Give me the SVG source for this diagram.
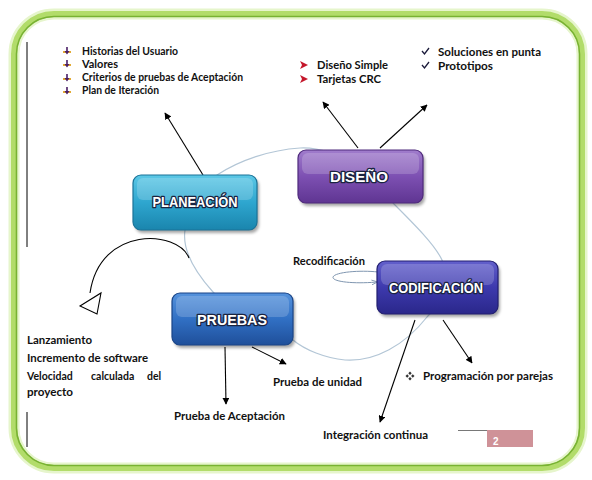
<svg xmlns="http://www.w3.org/2000/svg" width="592" height="480" viewBox="0 0 592 480">
<defs>
  <linearGradient id="gPlan" x1="0" y1="0" x2="0" y2="1">
    <stop offset="0" stop-color="#5cc8e6"/><stop offset="0.5" stop-color="#2ea6cf"/><stop offset="1" stop-color="#1a85ad"/>
  </linearGradient>
  <linearGradient id="gDis" x1="0" y1="0" x2="0" y2="1">
    <stop offset="0" stop-color="#a07ccc"/><stop offset="0.5" stop-color="#7d50b2"/><stop offset="1" stop-color="#5f3592"/>
  </linearGradient>
  <linearGradient id="gCod" x1="0" y1="0" x2="0" y2="1">
    <stop offset="0" stop-color="#6360cc"/><stop offset="0.5" stop-color="#3d39ad"/><stop offset="1" stop-color="#2a278a"/>
  </linearGradient>
  <linearGradient id="gPru" x1="0" y1="0" x2="0" y2="1">
    <stop offset="0" stop-color="#5592dc"/><stop offset="0.5" stop-color="#3170c4"/><stop offset="1" stop-color="#1f4f9a"/>
  </linearGradient>
  <filter id="sh" x="-10%" y="-10%" width="130%" height="140%">
    <feGaussianBlur stdDeviation="1.6"/>
  </filter>
  <marker id="ah" viewBox="0 0 10 10" refX="9" refY="5" markerWidth="7" markerHeight="7" markerUnits="userSpaceOnUse" orient="auto">
    <path d="M0,0 L10,5 L0,10 z" fill="#000"/>
  </marker>
  <marker id="ahLoop" viewBox="0 0 10 10" refX="9" refY="5" markerWidth="6" markerHeight="6" markerUnits="userSpaceOnUse" orient="auto">
    <path d="M0,1 L10,5 L0,9" fill="none" stroke="#7f96b0" stroke-width="1.5"/>
  </marker>
</defs>
<style>
  .lbl { font-family: Lato, "Open Sans", "Liberation Sans", sans-serif; font-weight: bold; font-size: 10.5px; fill: #111; }
  .node { font-family: "Liberation Sans", Arial, sans-serif; font-weight: bold; font-size: 14px; fill: #fff; stroke: #1a2340; stroke-width: 2.6px; paint-order: stroke; stroke-linejoin: round; text-anchor: middle; }
  .box { stroke-width: 1.2; }
  .gloss { fill: #fff; opacity: 0.18; }
  .shadow { fill: #000; opacity: 0.35; filter: url(#sh); }
  .conn { stroke: #000; stroke-width: 1.1; fill: none; }
</style>
<rect width="592" height="480" fill="#fff"/>
<g id="frame">
  <rect x="14" y="14" width="568" height="454" rx="40" fill="#fff" stroke="#e6f5cc" stroke-width="11"/>
  <rect x="14" y="14" width="568" height="454" rx="40" fill="none" stroke="#b2dc6a" stroke-width="6"/>
  <rect x="16.5" y="16.5" width="563" height="449" rx="37.5" fill="none" stroke="#78b232" stroke-width="1.6"/>
  <line x1="27" y1="42" x2="27" y2="247" stroke="#000" stroke-width="1"/>
  <line x1="27" y1="412" x2="27" y2="447" stroke="#000" stroke-width="1"/>
</g>
<g id="connectors">
  <path d="M217,175 C240,160 270,150 300,148 C340,146 375,180 393,203 C415,225 435,245 442,260 C450,280 440,305 427,317 C405,345 375,362 345,360 C325,358 305,350 293,340 C260,325 228,310 213,292 C195,272 182,250 185,230 C188,205 200,188 217,175 Z" fill="none" stroke="#b3c6d6" stroke-width="1.2"/>
  <path class="conn" d="M189,258 C178,230 100,225 90,293" stroke-width="1.3"/>
  <polygon points="80,306 101,293 97,314" fill="#fff" stroke="#000" stroke-width="1.1"/>
  <line class="conn" x1="203" y1="175" x2="165" y2="113" marker-end="url(#ah)"/>
  <line class="conn" x1="358" y1="148" x2="323" y2="102" marker-end="url(#ah)"/>
  <line class="conn" x1="380" y1="148" x2="427" y2="105" marker-end="url(#ah)"/>
  <line class="conn" x1="443" y1="320" x2="472" y2="363" marker-end="url(#ah)"/>
  <line class="conn" x1="415" y1="320" x2="380" y2="422" marker-end="url(#ah)"/>
  <line class="conn" x1="225" y1="347" x2="226" y2="404" marker-end="url(#ah)"/>
  <line class="conn" x1="252" y1="347" x2="286" y2="364" marker-end="url(#ah)"/>
  <path d="M378,272 C360,270 335,272 333,277 C332,282 355,284 377,282" fill="none" stroke="#7f96b0" stroke-width="1" marker-end="url(#ahLoop)"/>
</g>
<g id="planeacion">
  <rect class="shadow" x="135" y="178" width="124" height="55" rx="8"/>
  <rect class="box" x="133" y="175" width="124" height="55" rx="8" fill="url(#gPlan)" stroke="#1b7398"/>
  <rect class="gloss" x="137" y="178" width="116" height="22" rx="6"/>
  <text class="node" x="195" y="207" textLength="85" lengthAdjust="spacingAndGlyphs">PLANEACIÓN</text>
</g>
<g id="diseno">
  <rect class="shadow" x="300" y="153" width="125" height="53" rx="8"/>
  <rect class="box" x="298" y="150" width="125" height="53" rx="8" fill="url(#gDis)" stroke="#4f2a7c"/>
  <rect class="gloss" x="302" y="153" width="117" height="21" rx="6"/>
  <text class="node" x="359" y="182" textLength="58" lengthAdjust="spacingAndGlyphs">DISEÑO</text>
</g>
<g id="codificacion">
  <rect class="shadow" x="379" y="264" width="121" height="53" rx="8"/>
  <rect class="box" x="377" y="261" width="121" height="53" rx="8" fill="url(#gCod)" stroke="#221f70"/>
  <rect class="gloss" x="381" y="264" width="113" height="21" rx="6"/>
  <text class="node" x="436" y="293" textLength="94" lengthAdjust="spacingAndGlyphs">CODIFICACIÓN</text>
</g>
<g id="pruebas">
  <rect class="shadow" x="174" y="296" width="121" height="52" rx="8"/>
  <rect class="box" x="172" y="293" width="121" height="52" rx="8" fill="url(#gPru)" stroke="#1a4588"/>
  <rect class="gloss" x="176" y="296" width="113" height="21" rx="6"/>
  <text class="node" x="232" y="325" textLength="70" lengthAdjust="spacingAndGlyphs">PRUEBAS</text>
</g>
<g id="planeacion-list">
  <g id="b1" transform="translate(67,51)">
    <line x1="-4" y1="1" x2="4" y2="1" stroke="#e0a21e" stroke-width="1.8"/>
    <polygon points="-0.8,-4 0.8,-4 0.8,0 2.5,0 0,3.5 -2.5,0 -0.8,0" fill="#4a1f66"/>
  </g>
  <use href="#b1" x="0" y="13"/>
  <use href="#b1" x="0" y="27"/>
  <use href="#b1" x="0" y="40"/>
  <text class="lbl" x="82" y="55" textLength="96" lengthAdjust="spacingAndGlyphs">Historias del Usuario</text>
  <text class="lbl" x="82" y="68" textLength="36" lengthAdjust="spacingAndGlyphs">Valores</text>
  <text class="lbl" x="82" y="81" textLength="161" lengthAdjust="spacingAndGlyphs">Criterios de pruebas de Aceptación</text>
  <text class="lbl" x="82" y="94" textLength="77" lengthAdjust="spacingAndGlyphs">Plan de Iteración</text>
</g>
<g id="diseno-list">
  <polygon id="r1" points="300,61 308,65 300,69 302,65" fill="#c4162a"/>
  <use href="#r1" x="0" y="14"/>
  <text class="lbl" x="317" y="69" textLength="71" lengthAdjust="spacingAndGlyphs">Diseño Simple</text>
  <text class="lbl" x="317" y="83" textLength="64" lengthAdjust="spacingAndGlyphs">Tarjetas CRC</text>
</g>
<g id="diseno-list2">
  <path id="c1" d="M422,51 L424.5,54 L429,48" fill="none" stroke="#1a1a3a" stroke-width="1.3"/>
  <use href="#c1" x="0" y="14"/>
  <text class="lbl" x="438" y="56" textLength="103" lengthAdjust="spacingAndGlyphs">Soluciones en punta</text>
  <text class="lbl" x="438" y="70" textLength="55" lengthAdjust="spacingAndGlyphs">Prototipos</text>
</g>
<g id="labels">
  <text class="lbl" x="293" y="265" textLength="72" lengthAdjust="spacingAndGlyphs">Recodificación</text>
  <text class="lbl" x="27" y="344" textLength="65" lengthAdjust="spacingAndGlyphs">Lanzamiento</text>
  <text class="lbl" x="27" y="362" textLength="121" lengthAdjust="spacingAndGlyphs">Incremento de software</text>
  <text class="lbl" y="380"><tspan x="27">Velocidad</tspan><tspan x="91">calculada</tspan><tspan x="147">del</tspan></text>
  <text class="lbl" x="27" y="396" textLength="46" lengthAdjust="spacingAndGlyphs">proyecto</text>
  <text class="lbl" x="174" y="420" textLength="111" lengthAdjust="spacingAndGlyphs">Prueba de Aceptación</text>
  <text class="lbl" x="273" y="386" textLength="89" lengthAdjust="spacingAndGlyphs">Prueba de unidad</text>
  <g transform="translate(410,376)" fill="#333">
    <rect x="-1.2" y="-4" width="2.4" height="2.4" transform="rotate(45 0 -2.8)"/>
    <rect x="-1.2" y="1.6" width="2.4" height="2.4" transform="rotate(45 0 2.8)"/>
    <rect x="-4" y="-1.2" width="2.4" height="2.4" transform="rotate(45 -2.8 0)"/>
    <rect x="1.6" y="-1.2" width="2.4" height="2.4" transform="rotate(45 2.8 0)"/>
  </g>
  <text class="lbl" x="423" y="380" textLength="130" lengthAdjust="spacingAndGlyphs">Programación por parejas</text>
  <text class="lbl" x="323" y="439" textLength="105" lengthAdjust="spacingAndGlyphs">Integración continua</text>
</g>
<g id="page-number">
  <line x1="458" y1="430.5" x2="487" y2="430.5" stroke="#555" stroke-width="0.8"/>
  <rect x="487" y="430" width="46" height="17" fill="#cf9298"/>
  <text x="493" y="445" font-family="Liberation Sans, Arial, sans-serif" font-weight="bold" font-size="10" fill="#fff">2</text>
</g>
</svg>
